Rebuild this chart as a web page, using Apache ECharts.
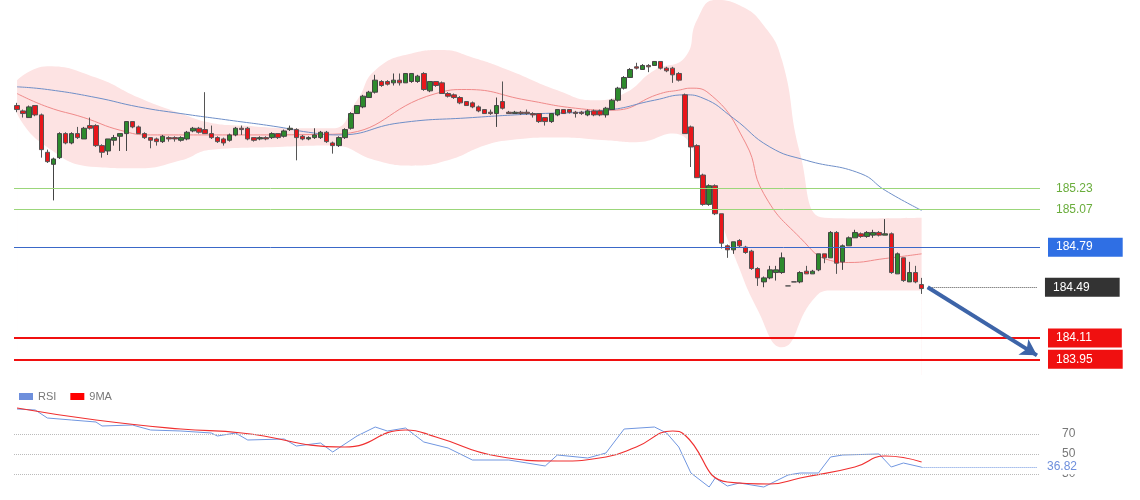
<!DOCTYPE html>
<html>
<head>
<meta charset="utf-8">
<script src="https://cdn.jsdelivr.net/npm/echarts@6/dist/echarts.min.js"></script>
<style>html,body{margin:0;padding:0;background:#fff}#c{width:1140px;height:500px}</style>
</head>
<body>
<div id="c"></div>
<script>
// candles: [open, close, low, high]
var candles = [
[185.85,185.82,185.80,185.87],[185.81,185.79,185.76,185.82],[185.76,185.84,185.76,185.85],[185.85,185.78,185.77,185.85],
[185.78,185.52,185.46,185.79],[185.50,185.43,185.42,185.52],[185.41,185.45,185.14,185.46],[185.46,185.64,185.45,185.65],
[185.64,185.57,185.56,185.65],[185.57,185.64,185.56,185.65],[185.64,185.61,185.60,185.69],[185.60,185.68,185.60,185.69],
[185.70,185.68,185.67,185.76],[185.70,185.55,185.54,185.71],[185.55,185.50,185.46,185.56],[185.51,185.60,185.48,185.60],
[185.59,185.61,185.55,185.63],[185.62,185.64,185.51,185.64],[185.64,185.73,185.51,185.73],[185.73,185.69,185.68,185.73],
[185.69,185.64,185.64,185.70],[185.64,185.61,185.60,185.65],[185.61,185.59,185.53,185.61],[185.60,185.58,185.55,185.61],
[185.58,185.62,185.57,185.63],[185.61,185.60,185.58,185.62],[185.61,185.60,185.58,185.62],[185.59,185.61,185.58,185.62],
[185.60,185.65,185.59,185.66],[185.66,185.68,185.65,185.69],[185.68,185.65,185.64,185.69],[185.67,185.64,185.64,185.95],
[185.64,185.61,185.60,185.70],[185.61,185.58,185.57,185.62],[185.60,185.57,185.55,185.61],[185.59,185.63,185.58,185.64],
[185.63,185.68,185.62,185.69],[185.68,185.67,185.63,185.70],[185.68,185.60,185.59,185.69],[185.61,185.59,185.58,185.61],
[185.60,185.61,185.59,185.62],[185.61,185.60,185.59,185.62],[185.61,185.64,185.60,185.65],[185.64,185.61,185.60,185.64],
[185.62,185.66,185.61,185.67],[185.67,185.68,185.66,185.70],[185.67,185.61,185.44,185.68],[185.62,185.60,185.59,185.63],
[185.60,185.61,185.59,185.62],[185.61,185.63,185.60,185.68],[185.61,185.65,185.60,185.66],[185.65,185.58,185.57,185.66],
[185.57,185.55,185.49,185.58],[185.55,185.61,185.54,185.62],[185.61,185.67,185.60,185.68],[185.68,185.79,185.67,185.80],
[185.79,185.85,185.79,185.85],[185.84,185.92,185.83,185.93],[185.91,185.95,185.91,185.96],[185.95,186.04,185.94,186.08],
[186.03,186.00,185.99,186.04],[186.03,186.01,186.00,186.04],[186.02,186.04,186.00,186.09],[186.04,186.02,186.00,186.09],
[186.02,186.09,186.02,186.09],[186.03,186.09,186.02,186.09],[186.03,186.07,186.02,186.08],[186.09,185.97,185.96,186.10],
[185.96,186.03,185.95,186.03],[186.03,186.00,185.99,186.03],[186.02,185.94,185.94,186.03],[185.94,185.92,185.91,185.95],
[185.93,185.91,185.90,185.94],[185.91,185.87,185.86,185.92],[185.88,185.85,185.85,185.88],[185.87,185.84,185.83,185.88],
[185.84,185.81,185.80,185.85],[185.82,185.79,185.79,185.82],[185.80,185.79,185.78,185.82],[185.79,185.85,185.69,185.91],
[185.88,185.83,185.82,186.03],[185.80,185.79,185.79,185.81],[185.79,185.80,185.79,185.81],[185.80,185.79,185.78,185.81],
[185.80,185.79,185.78,185.82],[185.79,185.78,185.76,185.80],[185.79,185.73,185.72,185.79],[185.76,185.73,185.70,185.76],
[185.73,185.79,185.72,185.79],[185.78,185.82,185.77,185.82],[185.82,185.79,185.79,185.82],[185.82,185.80,185.79,185.82],
[185.80,185.79,185.76,185.81],[185.80,185.79,185.78,185.81],[185.78,185.81,185.77,185.82],[185.81,185.78,185.77,185.82],
[185.81,185.78,185.77,185.82],[185.78,185.83,185.76,185.84],[185.82,185.89,185.82,185.90],[185.89,185.98,185.88,185.99],
[185.98,186.06,185.97,186.07],[186.06,186.12,186.06,186.13],[186.14,186.13,186.12,186.17],[186.12,186.15,186.12,186.16],
[186.15,186.14,186.10,186.16],[186.15,186.18,186.15,186.18],[186.18,186.13,186.12,186.18],[186.13,186.11,186.10,186.14],
[186.13,186.08,186.02,186.14],[186.09,186.04,186.03,186.10],[185.93,185.64,185.64,185.94],[185.69,185.54,185.39,185.70],
[185.55,185.31,185.31,185.56],[185.33,185.11,185.10,185.34],[185.11,185.25,185.10,185.26],[185.25,185.04,185.03,185.26],
[185.04,184.82,184.78,185.04],[184.80,184.77,184.71,184.81],[184.77,184.83,184.74,184.83],[184.84,184.80,184.79,184.85],
[184.79,184.75,184.74,184.80],[184.76,184.63,184.62,184.77],[184.63,184.56,184.50,184.64],[184.53,184.56,184.49,184.57],
[184.56,184.62,184.55,184.65],[184.60,184.62,184.54,184.65],[184.60,184.71,184.59,184.75],[184.50,184.50,184.50,184.50],
[184.53,184.53,184.53,184.53],[184.53,184.60,184.52,184.61],[184.61,184.59,184.59,184.65],[184.59,184.61,184.59,184.62],
[184.62,184.74,184.61,184.74],[184.74,184.71,184.67,184.74],[184.71,184.90,184.71,184.91],[184.90,184.67,184.59,184.91],
[184.68,184.80,184.62,184.81],[184.80,184.86,184.80,184.87],[184.86,184.90,184.86,184.92],[184.89,184.87,184.86,184.90],
[184.87,184.90,184.86,184.91],[184.88,184.90,184.86,184.92],[184.90,184.88,184.87,184.91],[184.88,184.89,184.88,185.00],
[184.89,184.60,184.59,184.90],[184.59,184.74,184.59,184.75],[184.71,184.54,184.53,184.71],[184.53,184.60,184.53,184.68],
[184.60,184.53,184.52,184.65],[184.51,184.48,184.44,184.56]
];
// overlays as [candle number, value]
var bandUpper = [[1,186.04],[6,186.145],[14,186.06],[21,185.91],[28,185.79],[33,185.72],[38,185.70],[47,185.68],[53,185.68],
  [57,185.89],[60,186.115],[66,186.24],[71,186.265],[76,186.21],[82,186.115],[90,185.965],[96,185.89],[101,185.94],
  [106,186.115],[111,186.21],[113,186.49],[116,186.64],[120,186.60],[124,186.45],[127,186.19],[130,185.49],[134,185.01],
  [141,185.005],[150,185.01]];
var bandLower = [[1,185.79],[5,185.57],[14,185.39],[21,185.38],[28,185.44],[33,185.52],[44,185.54],[53,185.55],[60,185.44],
  [66,185.40],[72,185.44],[78,185.55],[82,185.59],[90,185.61],[98,185.59],[103,185.575],[109,185.64],[115,185.19],
  [119,184.74],[123,184.32],[127,184.04],[132,184.39],[135,184.465],[141,184.465],[150,184.465]];
var bandMid = [[1,185.94],[6,185.84],[12,185.76],[18,185.665],[23,185.63],[36,185.63],[53,185.635],[70,185.94],[75,185.97],
  [85,185.89],[93,185.83],[99,185.815],[107,185.94],[110,185.965],[112,185.98],[115,185.94],[121,185.57],[124,185.19],
  [130,184.86],[135,184.69],[138,184.675],[144,184.705],[150,184.74]];
var slowMA = [[1,185.99],[6,185.97],[14,185.91],[21,185.84],[28,185.79],[36,185.74],[44,185.69],[49,185.65],[54,185.63],
  [64,185.72],[76,185.76],[85,185.785],[98,185.815],[106,185.89],[111,185.93],[114,185.905],[119,185.755],[125,185.54],
  [131,185.44],[140,185.34],[144,185.215],[150,185.065]];
var rsi = [[1,95],[4,94],[6,86],[10,84],[14,82],[15,78],[20,79],[23,74],[28,73],[33,71],[34,68],[37,71],[39,64],[45,65],
  [47,58],[51,61],[53,52],[57,68],[60,77],[62,73],[65,76],[68,62],[72,56],[76,44],[82,44],[88,38],[90,49],[95,46],[98,51],
  [101,75],[106,77],[108,71],[110,57],[112,31],[115,17],[116,26],[118,18],[120,21],[124,17],[128,29],[130,31],[133,31],
  [135,47],[137,49],[143,50],[145,37],[147,41],[150,36.82]];
var rsiMA = [[1,96],[14,84],[28,75],[38,71],[55,57],[65,74],[70,67],[80,48],[90,43],[98,47],[103,57],[109,73],[111,69],
  [118,22],[125,20],[130,26],[139,37],[144,48],[150,42]];
var levels = {support: [184.11, 183.95], resistance: [185.23, 185.07], pivot: 184.79, last: 184.49, rsiLast: 36.82};
var rsiTicks = [70, 50, 30];
var target = 183.98;

var nCats = 169;
var cats = [];
for (var i = 1; i <= nCats; i++) cats.push(String(i));
function pts(a) { return a.map(function (p) { return [p[0] - 1, p[1]]; }); }

function tag(v, bg, fg) {
  return {yAxis: v, label: {show: true, position: 'end', distance: 8, formatter: v.toFixed(2), color: fg || '#fff',
    backgroundColor: bg, padding: [4, 30, 3, 8], fontSize: 12, fontFamily: 'Arial'}};
}

var chart = echarts.init(document.getElementById('c'));
chart.setOption({
  animation: false,
  grid: [{left: 14, right: 100, top: 0, height: 375}, {left: 14, right: 100, top: 400, height: 90}],
  legend: {data: ['RSI', '9MA'], left: 14, top: 386, itemWidth: 14, itemHeight: 7, itemGap: 14,
    icon: 'rect', textStyle: {color: '#777', fontSize: 11, fontFamily: 'Arial'}},
  xAxis: [
    {type: 'category', data: cats, gridIndex: 0, show: false},
    {type: 'category', data: cats, gridIndex: 1, show: false}
  ],
  yAxis: [
    {type: 'value', gridIndex: 0, min: 183.833, max: 186.64, show: false},
    {type: 'value', gridIndex: 1, min: 14, max: 104, show: false}
  ],
  series: [
    {type: 'line', data: pts(bandUpper), smooth: true, symbol: 'none', lineStyle: {width: 0},
      areaStyle: {color: '#fde3e3', opacity: 1, origin: 'start'}, z: 1},
    {type: 'line', data: pts(bandLower), smooth: true, symbol: 'none', lineStyle: {width: 0},
      areaStyle: {color: '#fff', opacity: 1, origin: 'start'}, z: 2},
    {type: 'line', data: pts(bandMid), smooth: true, symbol: 'none', lineStyle: {width: 1, color: '#f08a8a'}, z: 3},
    {type: 'line', data: pts(slowMA), smooth: true, symbol: 'none', lineStyle: {width: 1, color: '#6f8fc8'}, z: 3},
    {type: 'candlestick', data: candles, barWidth: 5, z: 5,
      itemStyle: {color: '#2d8a2d', color0: '#e8161b', borderColor: '#444', borderColor0: '#555', borderWidth: 1},
      markLine: {symbol: 'none', silent: true, animation: false, z: 6,
        data: [
          Object.assign(tag(levels.resistance[0], 'transparent', '#6aad3c'), {lineStyle: {color: '#9bd67a', width: 1, type: 'solid'}}),
          Object.assign(tag(levels.resistance[1], 'transparent', '#6aad3c'), {lineStyle: {color: '#9bd67a', width: 1, type: 'solid'}}),
          Object.assign(tag(levels.pivot, '#2f6fe4'), {lineStyle: {color: '#3a68c8', width: 1, type: 'solid'}}),
          Object.assign(tag(levels.support[0], '#f01010'), {lineStyle: {color: '#f01010', width: 2, type: 'solid'}}),
          Object.assign(tag(levels.support[1], '#f01010'), {lineStyle: {color: '#f01010', width: 2, type: 'solid'}}),
          [{coord: [150, levels.last], lineStyle: {color: '#555', width: 1, type: 'dotted'}},
           {coord: [nCats - 1, levels.last], label: {show: true, position: 'end', distance: 8, formatter: levels.last.toFixed(2),
             color: '#fff', backgroundColor: '#333', padding: [4, 30, 3, 8], fontSize: 12, fontFamily: 'Arial'}}],
          [{coord: [150.3, levels.last], symbol: 'none', lineStyle: {color: '#3d64a8', width: 4, type: 'solid'}},
           {coord: [nCats - 1, target], symbol: 'arrow', symbolSize: [14, 16], label: {show: false}}]
        ]}},
    {name: 'RSI', type: 'line', xAxisIndex: 1, yAxisIndex: 1, data: pts(rsi), symbol: 'none',
      lineStyle: {width: 1, color: '#7096e0'}, itemStyle: {color: '#6e8fdc'}, z: 3,
      markLine: {symbol: 'none', silent: true,
        data: rsiTicks.map(function (t) {
          return {yAxis: t, lineStyle: {color: '#bbb', type: 'dotted', width: 1},
            label: {show: true, position: 'end', distance: 22, formatter: String(t), color: '#777', fontSize: 12, fontFamily: 'Arial'}};
        }).concat([[{coord: [149, levels.rsiLast], lineStyle: {color: '#7096e0', type: 'dotted', width: 1}},
          {coord: [nCats - 1, levels.rsiLast], label: {show: true, position: 'end', distance: 8, formatter: levels.rsiLast.toFixed(2),
            color: '#6e8fdc', backgroundColor: '#fff', fontSize: 12, fontFamily: 'Arial', padding: [1, 2]}}]])}},
    {name: '9MA', type: 'line', xAxisIndex: 1, yAxisIndex: 1, data: pts(rsiMA), smooth: true, symbol: 'none',
      lineStyle: {width: 1.2, color: '#f03030'}, itemStyle: {color: '#f00'}, z: 4}
  ]
});
</script>
</body>
</html>
